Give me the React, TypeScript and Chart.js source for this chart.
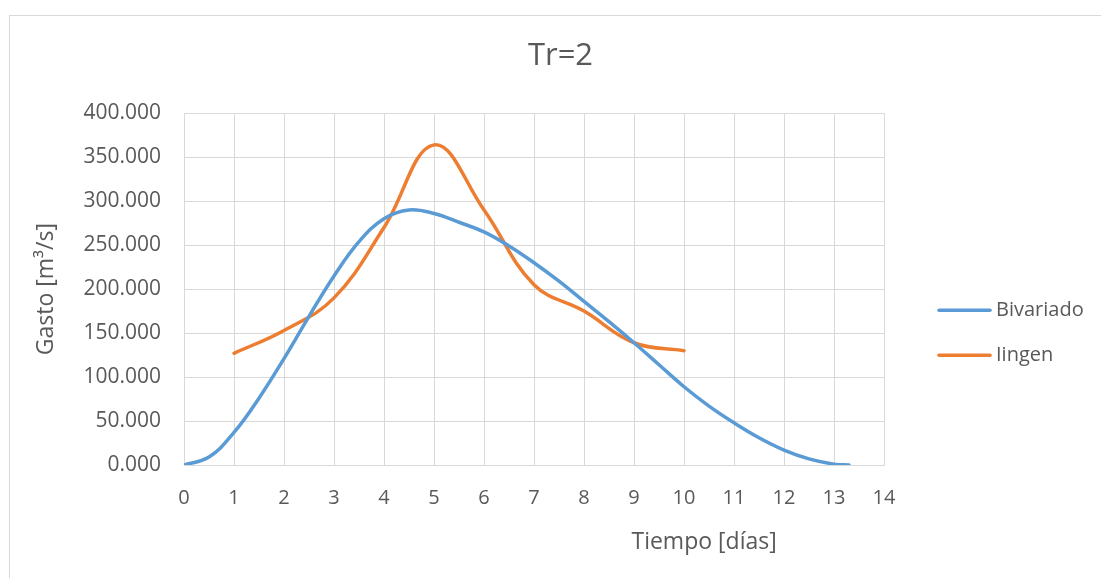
import React, { useEffect, useRef } from 'react';
import { Chart, registerables } from 'chart.js';

Chart.register(...registerables);

// ---- data ----
const chartTitle = 'Tr=2';
const xAxisTitle = 'Tiempo [días]';
const yAxisTitle = 'Gasto [m³/s]';

const bivariadoLabel = 'Bivariado';
const bivariadoX = [
  0, 0.5, 1, 1.5, 2, 2.5, 3, 3.5, 4, 4.5, 5, 5.5, 6, 6.5, 7, 7.5, 8, 8.5, 9, 9.5, 10, 10.5, 11, 11.5,
  12, 12.5, 13, 13.3,
];
const bivariadoY = [
  0, 9, 37, 76, 121, 169, 215, 254, 280, 290, 286, 276, 265, 249, 230, 209, 186, 163, 139, 114, 89,
  67, 48, 31, 17, 7, 1, 0,
];

const iingenLabel = 'Iingen';
const iingenX = [1, 2, 3, 4, 5, 6, 7, 8, 9, 10];
const iingenY = [127, 153, 190, 270, 364, 290, 205, 175, 139, 130];

const xMin = 0;
const xMax = 14;
const xStep = 1;
const yMin = 0;
const yMax = 400;
const yStep = 50;

const FONT = "'Open Sans', 'Noto Sans', sans-serif";
const TEXT = '#595959';
const GRID = '#d9d9d9';
const BLUE = '#5b9bd5';
const ORANGE = '#ed7d31';

const decorPlugin = {
  id: 'decor',
  beforeDraw(chart: any) {
    const ctx = chart.ctx;
    ctx.save();
    ctx.fillStyle = '#ffffff';
    ctx.fillRect(0, 0, chart.width, chart.height);
    ctx.strokeStyle = GRID;
    ctx.lineWidth = 1;
    ctx.strokeRect(9.5, 15.5, chart.width + 40, chart.height + 40);
    ctx.restore();
  },
  afterDraw(chart: any) {
    const ctx = chart.ctx;
    const area = chart.chartArea;
    ctx.save();
    // x axis title
    ctx.fillStyle = TEXT;
    ctx.font = `23px ${FONT}`;
    ctx.textAlign = 'center';
    ctx.textBaseline = 'middle';
    ctx.fillText(xAxisTitle, area.left + (area.right - area.left) * 0.743, area.bottom + 77);
    // legend
    const items = chart.data.datasets;
    items.forEach((ds: any, i: number) => {
      const y = area.top + 197 + i * 45;
      ctx.strokeStyle = ds.borderColor;
      ctx.lineWidth = 3.5;
      ctx.lineCap = 'round';
      ctx.beginPath();
      ctx.moveTo(area.right + 55, y);
      ctx.lineTo(area.right + 106, y);
      ctx.stroke();
      ctx.fillStyle = TEXT;
      ctx.font = `20px ${FONT}`;
      ctx.textAlign = 'left';
      ctx.textBaseline = 'middle';
      ctx.fillText(ds.label, area.right + 112, y);
    });
    ctx.restore();
  },
};

export default function App() {
  const canvasRef = useRef<HTMLCanvasElement | null>(null);

  useEffect(() => {
    document.body.style.margin = '0';
    const canvas = canvasRef.current;
    if (!canvas) return;
    const chart = new Chart(canvas, {
      type: 'line',
      data: {
        datasets: [
          {
            label: bivariadoLabel,
            data: bivariadoX.map((x, i) => ({ x, y: bivariadoY[i] })),
            borderColor: BLUE,
            backgroundColor: BLUE,
            borderWidth: 3.5,
            pointRadius: 0,
            tension: 0.4,
            borderCapStyle: 'round',
            fill: false,
          },
          {
            label: iingenLabel,
            data: iingenX.map((x, i) => ({ x, y: iingenY[i] })),
            borderColor: ORANGE,
            backgroundColor: ORANGE,
            borderWidth: 3.5,
            pointRadius: 0,
            tension: 0.4,
            borderCapStyle: 'round',
            fill: false,
          },
        ],
      },
      options: {
        responsive: false,
        animation: false,
        devicePixelRatio: 1,
        layout: { padding: { left: 20, right: 0, top: 16, bottom: 0 } },
        plugins: {
          legend: { display: false },
          tooltip: { enabled: false },
          title: {
            display: true,
            text: chartTitle,
            color: TEXT,
            font: { family: FONT, size: 31, weight: 'normal' },
            padding: { top: 22, bottom: 38 },
          },
        },
        scales: {
          x: {
            type: 'linear',
            position: 'bottom',
            min: xMin,
            max: xMax,
            ticks: {
              stepSize: xStep,
              color: TEXT,
              font: { family: FONT, size: 20 },
              padding: 21,
              maxRotation: 0,
              autoSkip: false,
            },
            grid: { color: GRID, lineWidth: 1, drawTicks: false },
            border: { color: GRID, width: 1 },
            afterFit: (scale: any) => {
              scale.height = 113;
            },
          },
          y: {
            type: 'linear',
            position: 'left',
            min: yMin,
            max: yMax,
            ticks: {
              stepSize: yStep,
              color: TEXT,
              font: { family: FONT, size: 21 },
              padding: 23,
              callback: (v: any) => Number(v).toFixed(3),
            },
            grid: { color: GRID, lineWidth: 1, drawTicks: false },
            border: { color: GRID, width: 1 },
            title: {
              display: true,
              text: yAxisTitle,
              color: TEXT,
              font: { family: FONT, size: 23 },
              padding: { top: 13, bottom: 0 },
            },
            afterFit: (scale: any) => {
              scale.width = 164;
            },
          },
          yRight: {
            type: 'linear',
            axis: 'y',
            position: 'right',
            display: true,
            ticks: { display: false },
            grid: { display: false },
            border: { display: false },
            afterFit: (scale: any) => {
              scale.width = 217;
            },
          },
        },
      },
      plugins: [decorPlugin],
    } as any);
    return () => chart.destroy();
  }, []);

  return (
    <div style={{ width: 1101, height: 578 }}>
      <canvas ref={canvasRef} width={1101} height={578} style={{ display: 'block' }} />
    </div>
  );
}
